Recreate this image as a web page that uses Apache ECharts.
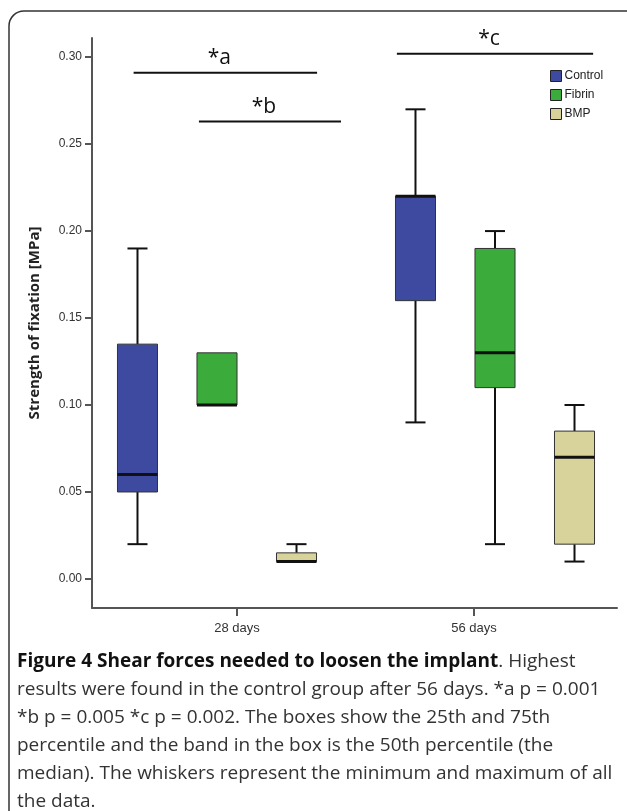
<!DOCTYPE html>
<html>
<head>
<meta charset="utf-8">
<script src="https://cdn.jsdelivr.net/npm/echarts@6/dist/echarts.min.js"></script>
<style>
  html, body { margin: 0; padding: 0; background: #fff; }
  #chart { width: 627px; height: 811px; }
</style>
</head>
<body>
<div id="chart"></div>
<script>
// categories and box values: [min, q1, median, q3, max]
var categories = ['28 days', '56 days'];
var groupNames = ['Control', 'Fibrin', 'BMP'];
var controlBox = [[0.02, 0.05, 0.06, 0.135, 0.19], [0.09, 0.16, 0.22, 0.22, 0.27]];
var fibrinBox = [[0.10, 0.10, 0.10, 0.13, 0.13], [0.02, 0.11, 0.13, 0.19, 0.20]];
var bmpBox = [[0.01, 0.01, 0.01, 0.015, 0.02], [0.01, 0.02, 0.07, 0.085, 0.10]];
var yTicks = [0, 0.05, 0.10, 0.15, 0.20, 0.25, 0.30];

// significance bars (x in category units, y in MPa)
var sigLabels = ['*a', '*b', '*c'];
var sigFrom = [-0.30, -0.065, 0.647];
var sigTo = [0.36, 0.446, 1.353];
var sigLevel = [0.291, 0.263, 0.302];

var captionLines = [
  '{b|Figure 4 Shear forces needed to loosen the implant}. Highest',
  'results were found in the control group after 56 days. *a p = 0.001',
  '*b p = 0.005 *c p = 0.002. The boxes show the 25th and 75th',
  'percentile and the band in the box is the 50th percentile (the',
  'median). The whiskers represent the minimum and maximum of all',
  'the data.'
];

var colors = ['#3d4aa0', '#3bab3b', '#d8d39b'];
var boxSets = [controlBox, fibrinBox, bmpBox];

var chart = echarts.init(document.getElementById('chart'));

// pixel layout of the plot
var plotLeft = 92, plotRight = 617;
var firstCenter = 217, catStep = 278;
var xMin = (plotLeft - firstCenter) / catStep;
var xMax = (plotRight - firstCenter) / catStep;
var labelPos = [(237 - firstCenter) / catStep, (474 - firstCenter) / catStep];

function boxRenderer(groupIdx) {
  return function (params, api) {
    var cat = api.value(0);
    var band = api.size([1, 0])[0];
    var cx = api.coord([cat, 0])[0] + (groupIdx - 1) * band * 0.286;
    var w = band * 0.144;
    var y = function (i) { return api.coord([cat, api.value(i)])[1]; };
    var yMin = y(1), yQ1 = y(2), yMed = y(3), yQ3 = y(4), yMax = y(5);
    var black = '#111';
    var kids = [];
    if (yMax < yQ3 - 0.5) {
      kids.push({ type: 'line', shape: { x1: cx, y1: yQ3, x2: cx, y2: yMax }, style: { stroke: black, lineWidth: 2 } });
      kids.push({ type: 'line', shape: { x1: cx - w / 4, y1: yMax, x2: cx + w / 4, y2: yMax }, style: { stroke: black, lineWidth: 2 } });
    }
    if (yMin > yQ1 + 0.5) {
      kids.push({ type: 'line', shape: { x1: cx, y1: yQ1, x2: cx, y2: yMin }, style: { stroke: black, lineWidth: 2 } });
      kids.push({ type: 'line', shape: { x1: cx - w / 4, y1: yMin, x2: cx + w / 4, y2: yMin }, style: { stroke: black, lineWidth: 2 } });
    }
    kids.push({ type: 'rect', shape: { x: cx - w / 2, y: yQ3, width: w, height: yQ1 - yQ3 },
      style: { fill: colors[groupIdx], stroke: '#333', lineWidth: 1 } });
    kids.push({ type: 'line', shape: { x1: cx - w / 2, y1: yMed, x2: cx + w / 2, y2: yMed }, style: { stroke: black, lineWidth: 3 } });
    return { type: 'group', children: kids };
  };
}

var series = boxSets.map(function (set, g) {
  return {
    name: groupNames[g],
    type: 'custom',
    renderItem: boxRenderer(g),
    itemStyle: { color: colors[g], borderColor: '#222', borderWidth: 1 },
    encode: { x: 0, y: [1, 2, 3, 4, 5] },
    data: set.map(function (v, i) { return [i].concat(v); }),
    silent: true
  };
});

series.push({
  name: 'sig',
  type: 'custom',
  silent: true,
  encode: { x: [0, 1], y: 2 },
  data: sigLabels.map(function (s, i) { return [sigFrom[i], sigTo[i], sigLevel[i], i]; }),
  renderItem: function (params, api) {
    var p1 = api.coord([api.value(0), api.value(2)]);
    var p2 = api.coord([api.value(1), api.value(2)]);
    return {
      type: 'group',
      children: [
        { type: 'line', shape: { x1: p1[0], y1: p1[1], x2: p2[0], y2: p2[1] }, style: { stroke: '#111', lineWidth: 2 } },
        { type: 'text', x: (p1[0] + p2[0]) / 2 - 6, y: p1[1] - 4,
          style: { text: sigLabels[api.value(3)], fill: '#111', font: '21px "Open Sans"', align: 'center', verticalAlign: 'bottom' } }
      ]
    };
  }
});

var option = {
  animation: false,
  backgroundColor: '#fff',
  title: {
    left: 17,
    top: 648,
    padding: 0,
    text: captionLines.join('\n'),
    textStyle: {
      fontFamily: 'Open Sans', fontSize: 19, fontWeight: 'normal', color: '#333', lineHeight: 28,
      rich: { b: { fontFamily: 'Open Sans', fontSize: 19, fontWeight: 'bold', color: '#111', lineHeight: 28 } }
    }
  },
  legend: {
    orient: 'vertical',
    left: 550,
    top: 70,
    padding: 0,
    itemWidth: 11,
    itemHeight: 11,
    itemGap: 7,
    icon: 'rect',
    textStyle: { fontFamily: 'Liberation Sans', fontSize: 12, color: '#222', padding: [0, 0, 0, -2] },
    data: groupNames.map(function (n, i) {
      return { name: n, itemStyle: { color: colors[i], borderColor: '#222', borderWidth: 1 } };
    })
  },
  grid: { left: plotLeft, right: 627 - plotRight, top: 38, bottom: 811 - 608 },
  xAxis: {
    type: 'value',
    min: xMin,
    max: xMax,
    splitLine: { show: false },
    axisLine: { show: true, onZero: false, lineStyle: { color: '#555', width: 2 } },
    axisTick: { show: true, customValues: labelPos, length: 8, lineStyle: { color: '#555', width: 2 } },
    axisLabel: {
      customValues: labelPos,
      formatter: function (v) { return categories[Math.round(v)]; },
      fontFamily: 'Liberation Sans', fontSize: 13, color: '#333', margin: 14
    }
  },
  yAxis: {
    type: 'value',
    min: -0.0167,
    max: 0.311,
    splitLine: { show: false },
    axisLine: { show: true, onZero: false, lineStyle: { color: '#555', width: 2 } },
    axisTick: { show: true, customValues: yTicks, length: 7, lineStyle: { color: '#555', width: 2 } },
    axisLabel: {
      customValues: yTicks,
      formatter: function (v) { return v.toFixed(2); },
      fontFamily: 'Liberation Sans', fontSize: 12, color: '#333', margin: 10
    },
    name: 'Strength of fixation [MPa]',
    nameLocation: 'middle',
    nameGap: 50,
    nameTextStyle: { fontFamily: 'Open Sans', fontWeight: 'bold', fontSize: 15, color: '#222' }
  },
  graphic: [{
    type: 'rect',
    silent: true,
    shape: { x: 9, y: 11, width: 700, height: 900, r: 15 },
    style: { fill: 'none', stroke: '#333', lineWidth: 1.5 }
  }],
  series: series
};

chart.setOption(option);
</script>
</body>
</html>
